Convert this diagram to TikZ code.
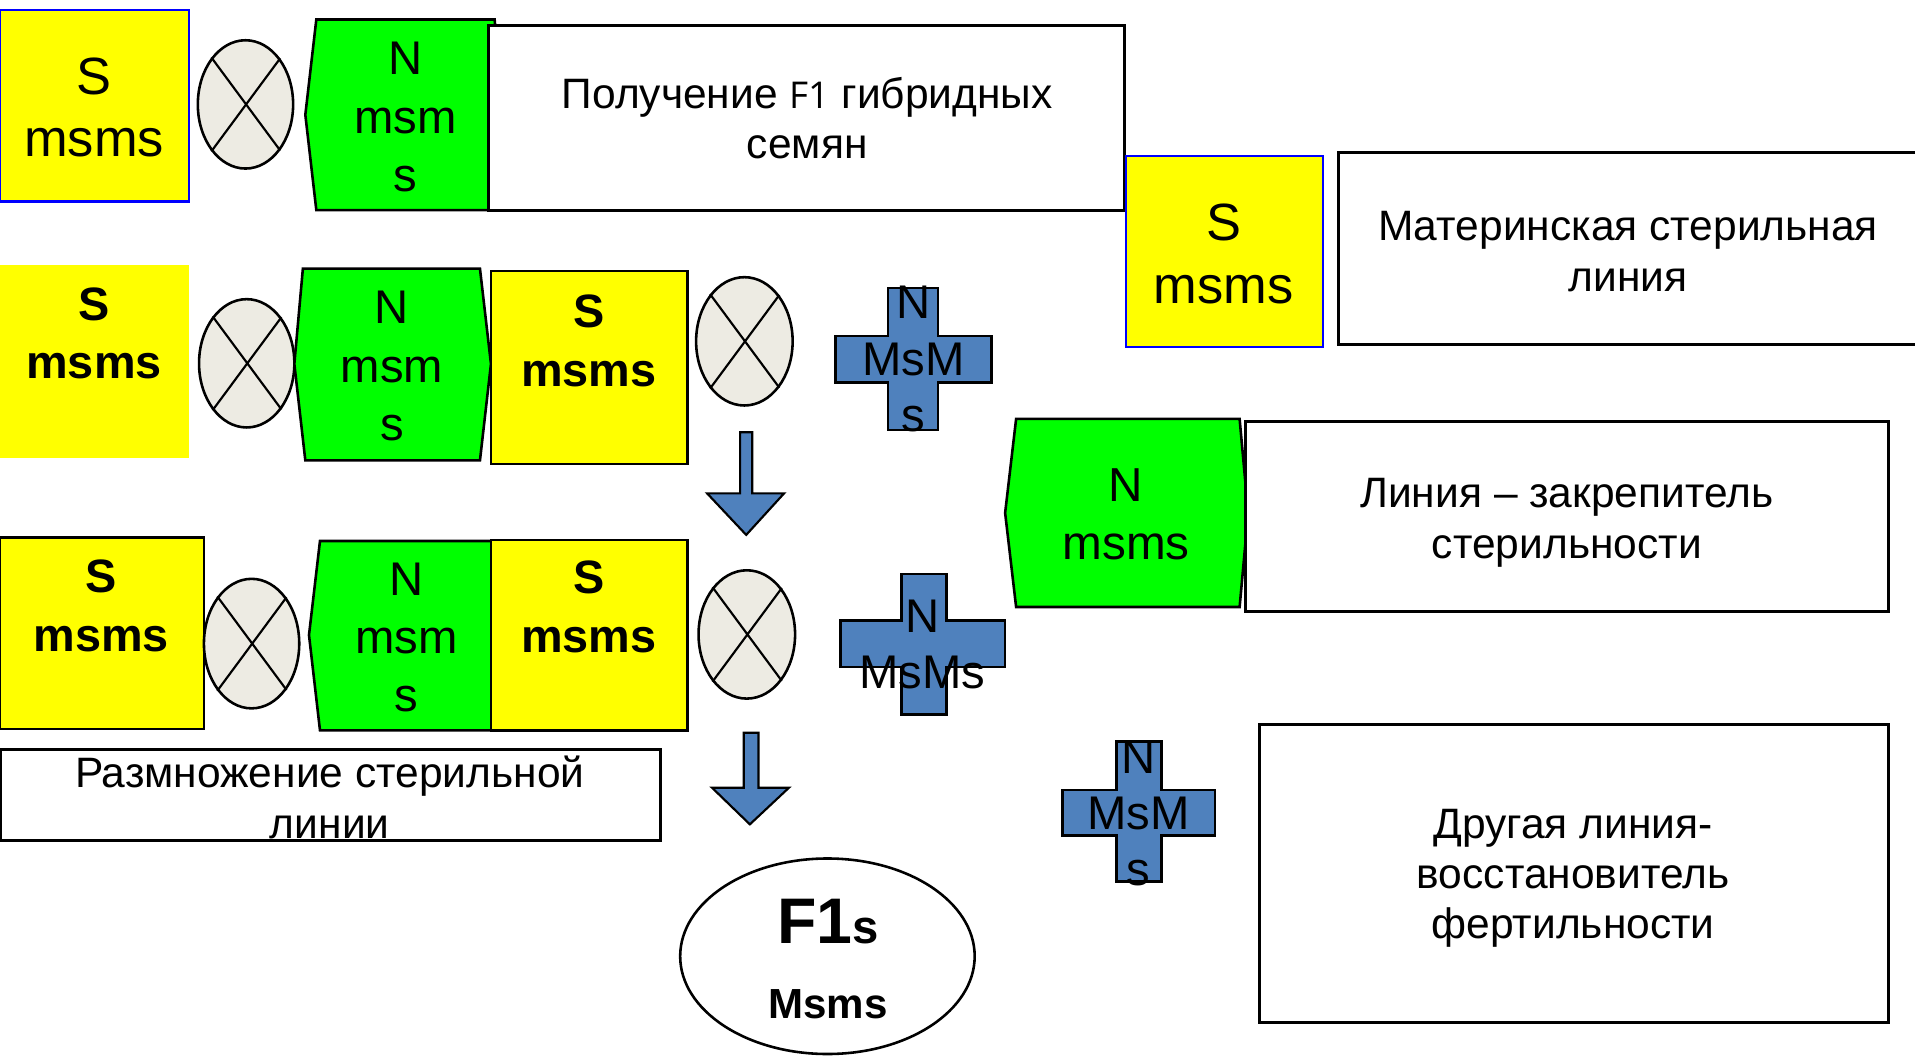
\documentclass[tikz,border=0pt]{standalone}
\usepackage{fontspec}
\setmainfont{Liberation Sans}
\newfontfamily\altsans{Open Sans}
\usetikzlibrary{shapes.geometric}
\definecolor{cyel}{RGB}{255,255,0}
\definecolor{cgrn}{RGB}{0,255,0}
\definecolor{cblu}{RGB}{79,129,189}
\definecolor{cbeige}{RGB}{237,235,227}
\definecolor{cedge}{RGB}{0,0,255}

\begin{document}
\begin{tikzpicture}[x=0.01cm,y=-0.01cm,
  line join=miter,
  ybox/.style={fill=cyel},
  bedge/.style={draw=cedge, line width=0.5pt},
  kedge/.style={draw=black, line width=0.6pt},
  gbox/.style={fill=cgrn, draw=black, line width=0.6pt},
  wbox/.style={fill=white, draw=black, line width=0.7pt},
  xell/.style={ellipse, draw=black, fill=cbeige, line width=0.6pt, inner sep=0pt,
               minimum width=0.78cm, minimum height=1.05cm},
  xline/.style={draw=black, line width=0.5pt},
  plus/.style={fill=cblu, draw=black, line width=0.6pt},
  barrow/.style={fill=cblu, draw=black, line width=0.5pt},
  txt/.style={inner sep=0pt, align=center},
  ytxt/.style={txt, font=\fontsize{12.2}{14.6}\selectfont},
  ybtxt/.style={txt, font=\bfseries\fontsize{10.9}{13.7}\selectfont},
  gtxt/.style={txt, font=\fontsize{11}{13.6}\selectfont},
  wtxt/.style={txt, font=\fontsize{9.9}{11.7}\selectfont},
  ctxt/.style={txt, font=\fontsize{11}{13.1}\selectfont},
]
\clip (0,0) rectangle (1568,865);
\fill[white] (0,0) rectangle (1568,865);

% ---------- row 1: obtaining F1 hybrid seeds ----------
\path[ybox, bedge] (0,8) rectangle (155,165);
\node[ytxt] (y1t) at (77,88) {S\\msms};

\node[xell] (e1) at (201,85.5) {};
\draw[xline] (e1.126.6) -- (e1.-53.4) (e1.53.4) -- (e1.-126.6);

\path[gbox] (259,16) -- (405,16) -- (412,94) -- (405,172) -- (259,172) -- (250,94) -- cycle;
\node[gtxt] (g1t) at (332,96) {N\\msm\\s};

\path[wbox] (400,21) rectangle (921,172);
\node[wtxt] (w1t) at (661,97) {Получение {\altsans\fontsize{8.6}{11.7}\selectfont F1} гибридных\\семян};

\path[wbox] (1096,125) rectangle (1580,282);
\node[wtxt] (wmt) at (1333,206) {Материнская стерильная\\линия};

\path[ybox, bedge] (922,128) rectangle (1083,284);
\node[ytxt] (yrt) at (1002,208) {S\\msms};

% ---------- row 2 ----------
\path[ybox] (0,217) rectangle (155,375);
\node[ybtxt] (y2t) at (77,273) {S\\msms};

\node[xell] (e2) at (202,297.5) {};
\draw[xline] (e2.126.6) -- (e2.-53.4) (e2.53.4) -- (e2.-126.6);

\path[gbox] (248,220) -- (393,220) -- (402,298) -- (393,377) -- (250,377) -- (241,298) -- cycle;
\node[gtxt] (g2t) at (321,300) {N\\msm\\s};

\path[ybox, kedge] (402,222) rectangle (563,380);
\node[ybtxt] (y3t) at (482,279) {S\\msms};

\node[xell, minimum width=0.79cm] (e3) at (609.5,279.5) {};
\draw[xline] (e3.126.9) -- (e3.-53.1) (e3.53.1) -- (e3.-126.9);

\path[plus] (727,236) -- (768,236) -- (768,275) -- (812,275) -- (812,313) -- (768,313)
  -- (768,352) -- (727,352) -- (727,313) -- (684,313) -- (684,275) -- (727,275) -- cycle;
\node[ctxt] (c1t) at (748,294) {N\\MsM\\s};

\path[barrow] (606,354) -- (616,354) -- (616,404) -- (642,404) -- (611,438) -- (579,404) -- (606,404) -- cycle;

% ---------- row 3 ----------
\path[ybox, kedge] (0,440) rectangle (167,597);
\node[ybtxt] (y4t) at (83,496) {S\\msms};

\node[xell, minimum height=1.06cm] (e4) at (206,527) {};
\draw[xline] (e4.126.3) -- (e4.-53.7) (e4.53.7) -- (e4.-126.3);

\path[gbox] (262,443) -- (410,443) -- (418,520) -- (410,598) -- (262,598) -- (253,520) -- cycle;
\node[gtxt] (g3t) at (333,522) {N\\msm\\s};

\path[ybox, kedge] (402,442) rectangle (563,598);
\node[ybtxt] (y5t) at (482,497) {S\\msms};

\node[xell, minimum width=0.79cm] (e5) at (611.5,519.5) {};
\draw[xline] (e5.126.9) -- (e5.-53.1) (e5.53.1) -- (e5.-126.9);

\path[plus] (738,470) -- (775,470) -- (775,508) -- (823,508) -- (823,546) -- (775,546)
  -- (775,585) -- (738,585) -- (738,546) -- (688,546) -- (688,508) -- (738,508) -- cycle;
\node[ctxt] (c2t) at (755,528) {N\\MsMs};

\path[wbox] (0,614) rectangle (541,688);
\node[wtxt] (w3t) at (270,653) {Размножение стерильной\\линии};

\path[barrow] (609,600) -- (621,600) -- (621,645) -- (646,645) -- (614,675) -- (583,645) -- (609,645) -- cycle;

% ---------- result ----------
\node[ellipse, draw=black, fill=white, line width=0.6pt, inner sep=0pt,
      minimum width=2.41cm, minimum height=1.60cm] (f1) at (677.5,783) {};
\node[txt] (f1t) at (678,755) {\bfseries\fontsize{15}{15}\selectfont F1\fontsize{11}{11}\selectfont s};
\node[txt, font=\bfseries\fontsize{9.8}{10}\selectfont] (f1g) at (678,822) {Msms};

% ---------- right column ----------
\path[gbox] (832,343) -- (1015,343) -- (1022,420) -- (1015,497) -- (832,497) -- (823,420) -- cycle;
\node[txt, font=\fontsize{11.1}{13.4}\selectfont] (g4t) at (922,421) {N\\msms};

\path[wbox] (1020,345) rectangle (1546,501);
\node[wtxt] (w4t) at (1283,428) {Линия – закрепитель\\стерильности};

\path[plus] (914,607) -- (951,607) -- (951,647) -- (995,647) -- (995,684) -- (951,684)
  -- (951,722) -- (914,722) -- (914,684) -- (870,684) -- (870,647) -- (914,647) -- cycle;
\node[ctxt] (c3t) at (932,666) {N\\MsM\\s};

\path[wbox] (1031,593) rectangle (1546,837);
\node[wtxt] (w5t) at (1288,719) {Другая линия-\\восстановитель\\фертильности};

\end{tikzpicture}
\end{document}
